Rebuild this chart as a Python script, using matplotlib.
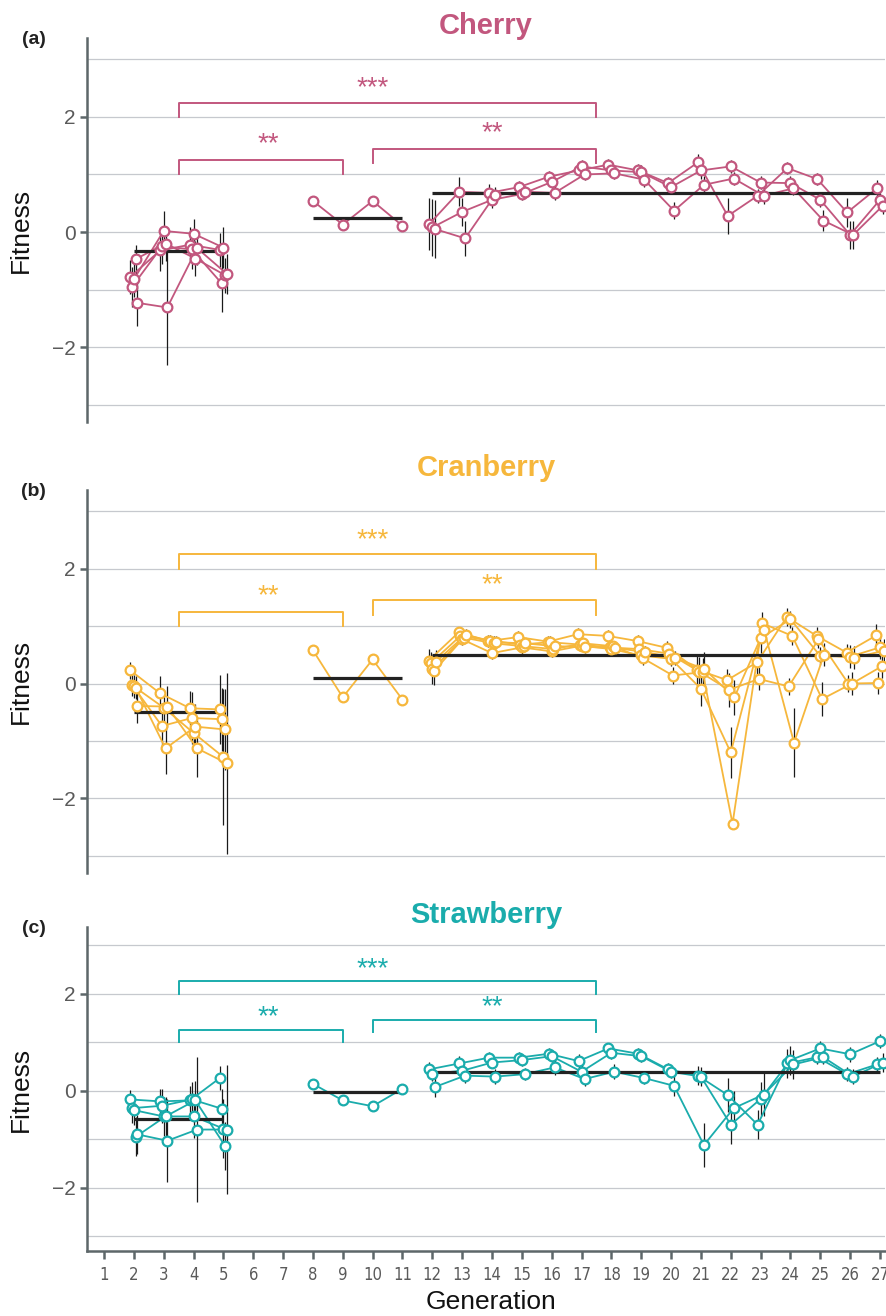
import numpy as np
import matplotlib
matplotlib.use('Agg')
import matplotlib.pyplot as plt
from matplotlib import font_manager

plt.rcParams['font.family'] = ['Liberation Sans', 'DejaVu Sans']

# generations for the three blocks of the experiment
seg1_gen = [2, 3, 4, 5]
seg2_gen = [8, 9, 10, 11]
seg3_gen = [12, 13, 14, 15, 16, 17, 18, 19, 20, 21, 22, 23, 24, 25, 26, 27]
x_ticks = list(range(1, 28))

# ---- Cherry ----
cherry_seg1 = [[-0.78, -0.32, -0.22, -0.31],
               [-0.95, -0.25, -0.30, -0.89],
               [-0.82, 0.02, -0.03, -0.27],
               [-0.47, -0.20, -0.46, -0.75],
               [-1.23, -1.31, -0.28, -0.73]]
cherry_seg1_err = [[0.30, 0.35, 0.30, 0.30],
                   [0.35, 0.30, 0.35, 0.50],
                   [0.30, 0.35, 0.25, 0.35],
                   [0.25, 0.30, 0.30, 0.30],
                   [0.40, 1.00, 0.30, 0.35]]
cherry_seg2 = [0.54, 0.13, 0.54, 0.11]
cherry_seg3 = [[0.14, 0.70, 0.68, 0.78, 0.96, 1.07, 1.17, 1.07, 0.85, 1.21, 0.28, 0.63, 1.11, 0.92, 0.34, 0.76],
               [0.08, 0.35, 0.56, 0.66, 0.87, 1.14, 1.07, 1.04, 0.78, 1.07, 1.14, 0.86, 0.85, 0.56, -0.05, 0.56],
               [0.05, -0.11, 0.64, 0.70, 0.68, 1.00, 1.02, 0.91, 0.37, 0.82, 0.93, 0.63, 0.76, 0.20, -0.05, 0.46]]
cherry_seg3_err = [[0.45, 0.25, 0.15, 0.10, 0.10, 0.10, 0.10, 0.12, 0.10, 0.15, 0.32, 0.12, 0.10, 0.10, 0.25, 0.15],
                   [0.50, 0.25, 0.15, 0.10, 0.10, 0.12, 0.10, 0.12, 0.10, 0.15, 0.12, 0.12, 0.12, 0.12, 0.25, 0.12],
                   [0.50, 0.30, 0.15, 0.10, 0.12, 0.10, 0.10, 0.12, 0.15, 0.15, 0.12, 0.15, 0.12, 0.18, 0.25, 0.15]]
cherry_means = [-0.33, 0.24, 0.68]

# ---- Cranberry ----
cranberry_seg1 = [[0.23, -0.17, -0.43, -0.45],
                  [-0.02, -0.74, -0.60, -0.62],
                  [-0.05, -0.42, -0.86, -1.28],
                  [-0.07, -1.13, -0.75, -0.80],
                  [-0.39, -0.40, -1.13, -1.39]]
cranberry_seg1_err = [[0.15, 0.30, 0.30, 0.60],
                      [0.20, 0.40, 0.45, 0.55],
                      [0.20, 0.30, 0.35, 1.18],
                      [0.20, 0.45, 0.40, 0.70],
                      [0.30, 0.35, 0.50, 1.58]]
cranberry_seg2 = [0.58, -0.24, 0.42, -0.28]
cranberry_seg3 = [[0.40, 0.89, 0.74, 0.81, 0.73, 0.86, 0.83, 0.74, 0.62, 0.24, 0.06, 0.37, 1.16, 0.83, 0.54, 0.84],
                  [0.35, 0.83, 0.75, 0.68, 0.72, 0.68, 0.63, 0.60, 0.52, 0.21, -0.11, 0.08, -0.05, 0.77, 0.00, 0.01],
                  [0.25, 0.77, 0.53, 0.63, 0.56, 0.66, 0.60, 0.49, 0.43, -0.09, -1.20, 0.79, 1.12, 0.48, 0.47, 0.63],
                  [0.22, 0.80, 0.70, 0.65, 0.60, 0.70, 0.65, 0.44, 0.14, 0.20, -2.44, 1.05, 0.83, -0.27, 0.00, 0.30],
                  [0.38, 0.85, 0.72, 0.70, 0.65, 0.64, 0.62, 0.55, 0.45, 0.25, -0.24, 0.93, -1.03, 0.50, 0.45, 0.57]]
cranberry_seg3_err = [[0.20, 0.10, 0.10, 0.10, 0.10, 0.10, 0.10, 0.10, 0.12, 0.25, 0.20, 0.20, 0.15, 0.15, 0.15, 0.20],
                      [0.20, 0.10, 0.10, 0.10, 0.10, 0.10, 0.10, 0.10, 0.12, 0.25, 0.30, 0.20, 0.15, 0.15, 0.15, 0.20],
                      [0.25, 0.10, 0.10, 0.12, 0.10, 0.10, 0.10, 0.12, 0.12, 0.30, 0.45, 0.25, 0.15, 0.15, 0.20, 0.20],
                      [0.25, 0.10, 0.12, 0.10, 0.10, 0.10, 0.10, 0.12, 0.15, 0.25, 0.10, 0.20, 0.15, 0.30, 0.20, 0.20],
                      [0.20, 0.10, 0.10, 0.10, 0.10, 0.10, 0.10, 0.10, 0.12, 0.30, 0.30, 0.20, 0.60, 0.20, 0.20, 0.20]]
cranberry_means = [-0.50, 0.09, 0.50]

# ---- Strawberry ----
strawberry_seg1 = [[-0.18, -0.22, -0.20, 0.26],
                   [-0.36, -0.31, -0.18, -0.37],
                   [-0.40, -0.53, -0.53, -0.78],
                   [-0.95, -0.53, -0.20, -1.14],
                   [-0.90, -1.03, -0.80, -0.80]]
strawberry_seg1_err = [[0.20, 0.25, 0.30, 0.25],
                       [0.30, 0.35, 0.35, 0.40],
                       [0.30, 0.40, 0.45, 0.60],
                       [0.40, 0.40, 0.40, 0.50],
                       [0.40, 0.85, 1.50, 1.33]]
strawberry_seg2 = [0.14, -0.20, -0.32, 0.04]
strawberry_seg3 = [[0.44, 0.56, 0.68, 0.68, 0.76, 0.61, 0.87, 0.76, 0.44, 0.31, -0.09, -0.70, 0.56, 0.69, 0.34, 0.54],
                   [0.35, 0.41, 0.58, 0.63, 0.71, 0.39, 0.78, 0.71, 0.39, 0.29, -0.70, -0.17, 0.63, 0.87, 0.75, 1.02],
                   [0.08, 0.31, 0.29, 0.34, 0.48, 0.24, 0.39, 0.26, 0.10, -1.12, -0.36, -0.08, 0.54, 0.69, 0.29, 0.58]]
strawberry_seg3_err = [[0.15, 0.15, 0.12, 0.12, 0.12, 0.15, 0.12, 0.12, 0.12, 0.20, 0.35, 0.30, 0.30, 0.15, 0.15, 0.15],
                       [0.15, 0.15, 0.12, 0.12, 0.12, 0.15, 0.12, 0.12, 0.12, 0.20, 0.40, 0.35, 0.30, 0.15, 0.15, 0.15],
                       [0.20, 0.15, 0.15, 0.12, 0.15, 0.15, 0.15, 0.12, 0.20, 0.45, 0.35, 0.45, 0.30, 0.15, 0.15, 0.20]]
strawberry_means = [-0.59, -0.02, 0.39]

# significance brackets: (x_left, x_right, y_leg_left, y_top, y_leg_right, label, label_x, label_y)
brackets = [(3.5, 17.5, 2.0, 2.25, 2.0, '***', 10.0, 2.50),
            (3.5, 9.0, 1.0, 1.25, 1.0, '**', 6.5, 1.52),
            (10.0, 17.5, 1.2, 1.45, 1.2, '**', 14.0, 1.72)]

panels = [
    ('Cherry', '(a)', '#C2577E', cherry_seg1, cherry_seg1_err, cherry_seg2,
     cherry_seg3, cherry_seg3_err, cherry_means),
    ('Cranberry', '(b)', '#F6B73C', cranberry_seg1, cranberry_seg1_err, cranberry_seg2,
     cranberry_seg3, cranberry_seg3_err, cranberry_means),
    ('Strawberry', '(c)', '#1AACAC', strawberry_seg1, strawberry_seg1_err, strawberry_seg2,
     strawberry_seg3, strawberry_seg3_err, strawberry_means),
]

spine_col = '#5d6769'
grid_col = '#c6c9ce'
tick_col = '#5a5a5a'

# use a condensed face for the crowded generation ticks when one is installed
tick_font = {'family': 'Liberation Sans', 'stretch': 'normal', 'size': 12}
for f in font_manager.fontManager.ttflist:
    if f.name == 'Liberation Sans Narrow':
        tick_font = {'family': 'Liberation Sans Narrow', 'stretch': 'normal', 'size': 13}
        break
    if f.name == 'DejaVu Sans' and f.stretch == 'condensed' and f.style == 'normal':
        tick_font = {'family': 'DejaVu Sans', 'stretch': 'condensed', 'size': 12}

fig = plt.figure(figsize=(8.87, 13.16), dpi=100)
# axes boxes in figure fraction [left, bottom, width, height]
boxes = [[0.0981, 0.6793, 0.8997, 0.2918],
         [0.0981, 0.3366, 0.8997, 0.2910],
         [0.0981, 0.0494, 0.8997, 0.2462]]
title_y = [0.980, 0.644, 0.305]


def draw_reps(ax, gens, reps, errs, color, spread):
    n = len(reps)
    offs = np.linspace(-spread / 2, spread / 2, n)
    for vals, off, i in zip(reps, offs, range(n)):
        x = np.array(gens) + off
        if errs is not None:
            ax.errorbar(x, vals, yerr=errs[i], fmt='none', ecolor='#1a1a1a',
                        elinewidth=0.9, capsize=0, zorder=1)
        ax.plot(x, vals, '-', color=color, lw=1.3, zorder=2)
        ax.plot(x, vals, 'o', ms=7, mfc='white', mec=color, mew=1.6, zorder=4)


for k, (name, tag, col, s1, e1, s2, s3, e3, means) in enumerate(panels):
    ax = fig.add_axes(boxes[k])
    ax.set_xlim(0.43, 27.17)
    ax.set_ylim(-3.3, 3.37)

    for s in ['top', 'right']:
        ax.spines[s].set_visible(False)
    ax.spines['left'].set_color(spine_col)
    ax.spines['left'].set_linewidth(1.8)

    ax.set_yticks([-2, 0, 2])
    ax.set_yticklabels(['\u22122', '0', '2'])
    ax.set_yticks([-3, -1, 1, 3], minor=True)
    ax.tick_params(axis='y', which='major', length=5, width=1.8, color=spine_col,
                   labelsize=15, labelcolor=tick_col, pad=3)
    ax.tick_params(axis='y', which='minor', length=0)
    ax.grid(True, axis='y', which='both', color=grid_col, lw=0.9, zorder=0)
    ax.set_axisbelow(True)

    if k < 2:
        ax.spines['bottom'].set_visible(False)
        ax.set_xticks([])
    else:
        ax.spines['bottom'].set_color(spine_col)
        ax.spines['bottom'].set_linewidth(1.8)
        ax.set_xticks(x_ticks)
        ax.set_xticklabels([str(g) for g in x_ticks], color=tick_col, **tick_font)
        ax.tick_params(axis='x', length=6, width=1.8, color=spine_col, pad=5)

    draw_reps(ax, seg1_gen, s1, e1, col, 0.24)
    draw_reps(ax, seg2_gen, [s2], None, col, 0.0)
    draw_reps(ax, seg3_gen, s3, e3, col, 0.24 if len(s3) > 3 else 0.2)

    for seg, m in zip([seg1_gen, seg2_gen, seg3_gen], means):
        ax.plot([seg[0], seg[-1]], [m, m], color='#222222', lw=2.3,
                solid_capstyle='butt', zorder=3)

    for x1, x2, yl, yt, yr, lab, lx, ly in brackets:
        ax.plot([x1, x1, x2, x2], [yl, yt, yt, yr], color=col, lw=1.4,
                solid_joinstyle='round', zorder=2)
        ax.text(lx, ly, lab, color=col, fontsize=20, ha='center', va='center')

    fig.text(0.548, title_y[k], name, color=col, fontsize=21, fontweight='bold',
             ha='center', va='center')
    fig.text(0.038, boxes[k][1] + boxes[k][3] - 0.001, tag, fontsize=14,
             fontweight='bold', color='#222222', ha='center', va='center')
    fig.text(0.024, boxes[k][1] + boxes[k][3] / 2, 'Fitness', rotation=90,
             fontsize=19, color='#111111', ha='center', va='center')

fig.text(0.553, 0.0105, 'Generation', fontsize=19, color='#111111',
         ha='center', va='center')

fig.savefig('out.png', dpi=100)
